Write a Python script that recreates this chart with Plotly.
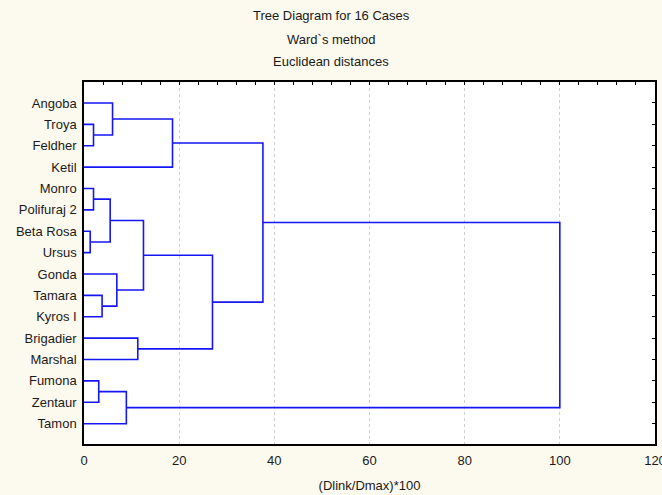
import plotly.graph_objects as go

# ---- data ----
leaf_labels = ["Angoba", "Troya", "Feldher", "Ketil", "Monro", "Polifuraj 2",
               "Beta Rosa", "Ursus", "Gonda", "Tamara", "Kyros I", "Brigadier",
               "Marshal", "Fumona", "Zentaur", "Tamon"]
# merges: (child_a, child_b) ids; leaves are 0..15, new clusters get 16, 17, ...
merge_a = [1, 0, 17, 4, 6, 19, 9, 8, 21, 11, 24, 18, 13, 28, 27]
merge_b = [2, 16, 3, 5, 7, 20, 10, 22, 23, 12, 25, 26, 14, 15, 29]
merge_height = [2.0, 6.0, 18.6, 2.0, 1.3, 5.5, 3.8, 6.9, 12.5, 11.3, 27.0, 37.6, 3.1, 8.9, 100.0]

x_tick_vals = [0, 20, 40, 60, 80, 100, 120]
title_lines = ["Tree Diagram for 16 Cases", "Ward`s method", "Euclidean distances"]
x_title = "(Dlink/Dmax)*100"

# ---- build dendrogram path from linkage ----
pos = {i: (0.0, float(i)) for i in range(len(leaf_labels))}
xs, ys = [], []
for k, (a, b, h) in enumerate(zip(merge_a, merge_b, merge_height)):
    ha, ya = pos[a]
    hb, yb = pos[b]
    xs += [ha, h, h, hb, None]
    ys += [ya, ya, yb, yb, None]
    pos[len(leaf_labels) + k] = (h, (ya + yb) / 2)

font_family = "Liberation Sans, Arial, sans-serif"
text_color = "#1a1a1a"
y_range = [15.95, -0.98]

fig = go.Figure()
fig.add_trace(go.Scatter(x=xs, y=ys, mode="lines",
                         line=dict(color="#1616f5", width=1.6),
                         hoverinfo="skip", showlegend=False))
fig.add_trace(go.Scatter(x=[None], y=[None], xaxis="x2", yaxis="y2",
                         mode="lines", showlegend=False, hoverinfo="skip"))

for i, t in enumerate(title_lines):
    fig.add_annotation(text=t, xref="paper", yref="paper", x=0.5, y=1.0,
                       xanchor="center", yanchor="middle", showarrow=False,
                       font=dict(family=font_family, size=13, color=text_color))

fig.update_layout(
    width=662, height=495,
    margin=dict(l=84, r=7, t=82, b=51),
    paper_bgcolor="#fcf9ee",
    plot_bgcolor="#ffffff",
    font=dict(family=font_family, size=13, color=text_color),
    xaxis=dict(range=[0, 120], tickvals=x_tick_vals, showgrid=True,
               gridcolor="#cfcfcf", griddash="dot", gridwidth=1,
               zeroline=False, showline=True, linecolor="black", linewidth=1.5,
               ticks="", ticklabelstandoff=4, ticklabeloverflow="allow",
               automargin=False,
               title=dict(text=x_title, standoff=14,
                          font=dict(family=font_family, size=13, color=text_color))),
    yaxis=dict(range=y_range, tickvals=list(range(len(leaf_labels))),
               ticktext=leaf_labels, showgrid=False, zeroline=False,
               showline=True, linecolor="black", linewidth=1.5, ticks="",
               ticklabelstandoff=3, automargin=False),
    xaxis2=dict(range=[0, 120], overlaying="x", side="top", anchor="y",
                dtick=4, tick0=0, ticks="inside", ticklen=3, tickcolor="black",
                showticklabels=False, showgrid=False, zeroline=False,
                showline=True, linecolor="black", linewidth=1.5, automargin=False),
    yaxis2=dict(range=y_range, overlaying="y", side="right", anchor="x",
                tickvals=list(range(len(leaf_labels))), ticks="inside",
                ticklen=3, tickcolor="black", showticklabels=False,
                showgrid=False, zeroline=False, showline=True,
                linecolor="black", linewidth=1.5, automargin=False),
)

# position title lines in pixels relative to paper
plot_h = 495 - 82 - 51
title_y_px = [16, 40, 62]
for ann, ypx in zip(fig.layout.annotations, title_y_px):
    ann.y = (495 - 51 - ypx) / plot_h
    ann.x = (331 - 84) / (662 - 84 - 7)

fig.write_html("out.html")
